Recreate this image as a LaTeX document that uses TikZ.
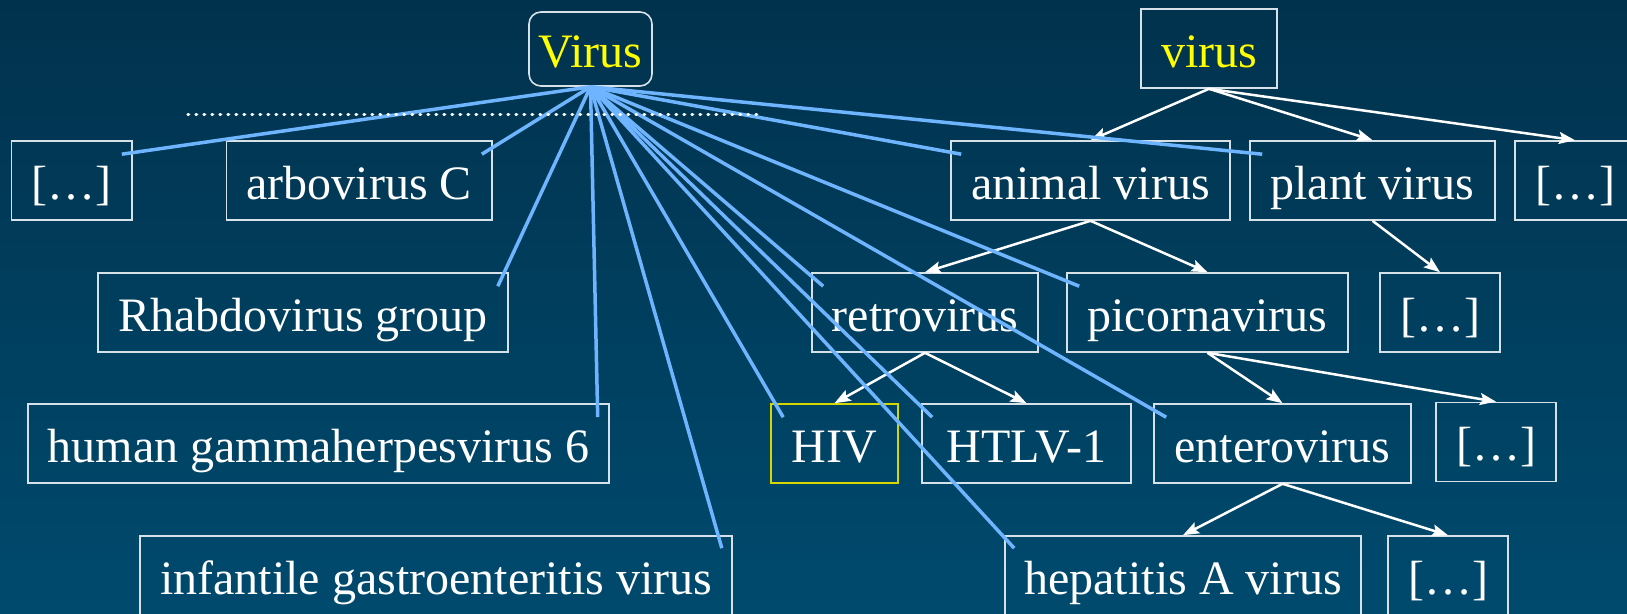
\documentclass[tikz,border=0pt]{standalone}
\usepackage{fontspec}
\setmainfont{Liberation Serif}
\usetikzlibrary{arrows.meta,calc}
\definecolor{bgtop}{RGB}{1,50,77}
\definecolor{bgbot}{RGB}{0,74,110}
\definecolor{blueline}{RGB}{110,180,255}
\definecolor{boxline}{RGB}{215,225,232}
\definecolor{hivyellow}{RGB}{215,215,0}
\definecolor{vyellow}{RGB}{255,255,0}
\begin{document}
\begin{tikzpicture}[x=1pt,y=-1pt,
  every node/.style={font=\fontsize{48}{56}\selectfont, text=white},
  tbox/.style={draw=boxline, line width=1.6pt, inner sep=0pt, minimum height=79pt,
    text height=45pt, text depth=8pt, align=center},
  arr/.style={draw=white, line width=2.5pt, -{Stealth[length=16pt,width=12pt,inset=3pt]}},
  bl/.style={draw=blueline, line width=3.5pt},
  sep/.style={draw=white, line width=3.5pt, line cap=round, dash pattern=on 0.6pt off 7.4pt}]
\useasboundingbox (0,0) rectangle (1627,613);
\fill[top color=bgtop, bottom color=bgbot] (0,0) rectangle (1627,613);
% roots
\node[tbox, rounded corners=12pt, minimum width=123pt, minimum height=74pt, text=vyellow] (Virus) at (590.5,49) {Virus};
\node[tbox, minimum width=136pt, text=vyellow] (virus) at (1209,48.5) {virus};
% row 1
\node[tbox, minimum width=120.5pt] (dA) at (71.75,180.5) {[…]};
\node[tbox, minimum width=265.5pt] (arbo) at (359.25,180.5) {arbovirus C};
\node[tbox, minimum width=279pt] (animal) at (1090.5,180.5) {animal virus};
\node[tbox, minimum width=245pt] (plant) at (1372.5,180.5) {plant virus};
\node[tbox, minimum width=120pt] (dB) at (1575,180.5) {[…]};
% row 2
\node[tbox, minimum width=410pt] (rhabdo) at (303,312.5) {Rhabdovirus group};
\node[tbox, minimum width=226pt] (retro) at (925,312.5) {retrovirus};
\node[tbox, minimum width=281pt] (picorna) at (1207.5,312.5) {picornavirus};
\node[tbox, minimum width=120pt] (dC) at (1440,312.5) {[…]};
% row 3
\node[tbox, minimum width=581pt] (human) at (318.4,443.5) {human gammaherpesvirus 6};
\node[tbox, draw=hivyellow, minimum width=127pt] (hiv) at (834.5,443.5) {HIV};
\node[tbox, minimum width=209pt] (htlv) at (1026.5,443.5) {HTLV-1};
\node[tbox, minimum width=257pt] (entero) at (1282.5,443.5) {enterovirus};
\node[tbox, minimum width=120pt] (dD) at (1496,442) {[…]};
% row 4
\node[tbox, minimum width=592pt] (infant) at (436,575.5) {infantile gastroenteritis virus};
\node[tbox, minimum width=356pt] (hepa) at (1183,575.5) {hepatitis A virus};
\node[tbox, minimum width=120pt] (dE) at (1448,575.5) {[…]};
% white hierarchy arrows
\draw[arr] (virus.south) -- (animal.north);
\draw[arr] (virus.south) -- (plant.north);
\draw[arr] (virus.south) -- (dB.north);
\draw[arr] (animal.south) -- (retro.north);
\draw[arr] (animal.south) -- (picorna.north);
\draw[arr] (plant.south) -- (dC.north);
\draw[arr] (retro.south) -- (hiv.north);
\draw[arr] (retro.south) -- (htlv.north);
\draw[arr] (picorna.south) -- (entero.north);
\draw[arr] (picorna.south) -- (dD.north);
\draw[arr] (entero.south) -- (hepa.north);
\draw[arr] (entero.south) -- (dE.north);
% blue links
\draw[bl] (Virus.south) -- ($(dA.north east)+(-11,14)$);
\draw[bl] (Virus.south) -- ($(arbo.north east)+(-11,14)$);
\draw[bl] (Virus.south) -- ($(rhabdo.north east)+(-11,14)$);
\draw[bl] (Virus.south) -- ($(human.north east)+(-12,14)$);
\draw[bl] (Virus.south) -- ($(infant.north east)+(-11,13)$);
\draw[bl] (Virus.south) -- ($(hiv.north west)+(13,14)$);
\draw[bl] (Virus.south) -- ($(htlv.north west)+(11,14)$);
\draw[bl] (Virus.south) -- ($(hepa.north west)+(10,13)$);
\draw[bl] (Virus.south) -- ($(entero.north west)+(13,14)$);
\draw[bl] (Virus.south) -- ($(picorna.north west)+(13,14)$);
\draw[bl] (Virus.south) -- ($(retro.north west)+(12,14)$);
\draw[bl] (Virus.south) -- ($(animal.north west)+(11,14)$);
\draw[bl] (Virus.south) -- ($(plant.north west)+(13,14)$);
% dotted separator
\coordinate (sepL) at (188,114.3);
\coordinate (sepR) at (757,114.3);
\draw[sep] (sepL) -- (sepR);
\end{tikzpicture}
\end{document}
